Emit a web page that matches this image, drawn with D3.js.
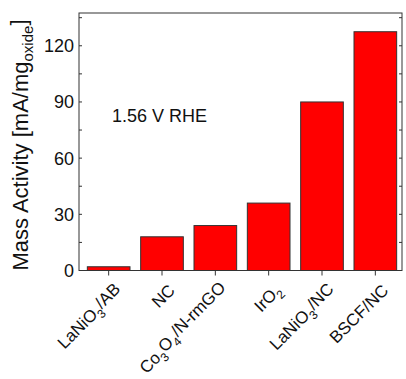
<!DOCTYPE html>
<html lang="en">
<head>
<meta charset="utf-8">
<script src="https://d3js.org/d3.v7.min.js"></script>
<style type="text/css">
body { margin: 0; background: #fff; }
text { font-family: "Liberation Sans", Arial, sans-serif; fill: #111; }
</style>
</head>
<body>
<script type="text/javascript">

// catalyst names: main / subscript pieces alternate
var catalysts = [
	["LaNiO", "3", "/AB"],
	["NC", "", ""],
	["Co", "3", "O", "4", "/N-rmGO"],
	["IrO", "2", ""],
	["LaNiO", "3", "/NC"],
	["BSCF/NC", "", ""]
];
var massActivity = [2, 18, 24, 36, 90, 127.5];
var yTicks = [0, 30, 60, 90, 120];
var yMinor = [15, 45, 75, 105, 135];

var width = 406, height = 379;
var pLeft = 79, pRight = 402, pTop = 13, pBottom = 270.5;

var svg = d3.select("body").append("svg")
	.attr("width", width)
	.attr("height", height);

var x = d3.scaleBand()
	.domain(d3.range(catalysts.length))
	.range([82, 402])
	.paddingInner(0.2)
	.paddingOuter(0.1);

var y = d3.scaleLinear()
	.domain([0, 137.5])
	.range([pBottom, pTop]);

// bars
svg.selectAll("rect.bar")
	.data(massActivity)
	.enter()
	.append("rect")
	.attr("class", "bar")
	.attr("x", function(d, i) { return x(i); })
	.attr("width", x.bandwidth())
	.attr("y", function(d) { return y(d); })
	.attr("height", function(d) { return y(0) - y(d); })
	.style("fill", "#ff0000")
	.style("stroke", "#333")
	.style("stroke-width", 1);

// frame
svg.append("rect")
	.attr("x", pLeft).attr("y", pTop)
	.attr("width", pRight - pLeft).attr("height", pBottom - pTop)
	.style("fill", "none").style("stroke", "#333").style("stroke-width", 1);

// left + right ticks (inward)
var allTicks = yTicks.concat(yMinor);
svg.selectAll("line.lt").data(allTicks).enter().append("line")
	.attr("class", "lt")
	.attr("x1", pLeft).attr("x2", pLeft + 3)
	.attr("y1", function(d) { return y(d); }).attr("y2", function(d) { return y(d); })
	.style("stroke", "#333");
svg.selectAll("line.rt").data(allTicks).enter().append("line")
	.attr("class", "rt")
	.attr("x1", pRight).attr("x2", pRight - 3)
	.attr("y1", function(d) { return y(d); }).attr("y2", function(d) { return y(d); })
	.style("stroke", "#333");

svg.selectAll("text.yl").data(yTicks).enter().append("text")
	.attr("class", "yl")
	.attr("x", pLeft - 5)
	.attr("y", function(d) { return y(d); })
	.attr("dy", "0.36em")
	.attr("text-anchor", "end")
	.style("font-size", "18px")
	.text(function(d) { return d; });

// bottom ticks (outward)
svg.selectAll("line.bt").data(catalysts).enter().append("line")
	.attr("class", "bt")
	.attr("x1", function(d, i) { return x(i) + x.bandwidth() / 2; })
	.attr("x2", function(d, i) { return x(i) + x.bandwidth() / 2; })
	.attr("y1", pBottom).attr("y2", pBottom + 5)
	.style("stroke", "#333");

// category labels, rotated
svg.selectAll("text.xl").data(catalysts).enter().append("text")
	.attr("class", "xl")
	.attr("text-anchor", "end")
	.attr("transform", function(d, i) {
		var cx = x(i) + x.bandwidth() / 2 + 14;
		return "translate(" + cx + "," + (pBottom + 21) + ") rotate(-45)";
	})
	.style("font-size", "17px")
	.each(function(d) {
		var t = d3.select(this);
		for (var k = 0; k < d.length; k++) {
			if (!d[k]) continue;
			var sub = k % 2 == 1;
			t.append("tspan")
				.attr("dy", sub ? "0.4em" : (k > 0 && d[k - 1] ? "-0.4em" : null))
				.style("font-size", sub ? "12px" : null)
				.text(d[k]);
		}
	});

// y axis title
var yt = svg.append("text")
	.attr("text-anchor", "middle")
	.attr("transform", "translate(28,145) rotate(-90)")
	.style("font-size", "22px");
yt.append("tspan").text("Mass Activity [mA/mg");
yt.append("tspan").attr("dy", "0.3em").style("font-size", "15px").text("oxide");
yt.append("tspan").attr("dy", "-0.3em").text("]");

// annotation
svg.append("text")
	.attr("x", 112).attr("y", 121.5)
	.style("font-size", "18px")
	.text("1.56 V RHE");

</script>
</body>
</html>
